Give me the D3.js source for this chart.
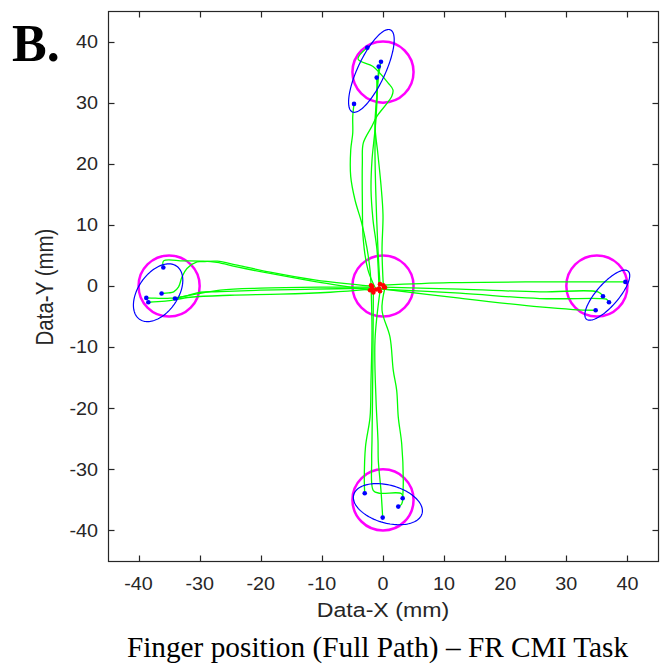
<!DOCTYPE html>
<html><head><meta charset="utf-8">
<script src="https://cdn.jsdelivr.net/npm/d3@7"></script>
<style>html,body{margin:0;padding:0;background:#fff;}svg{display:block;}</style>
</head><body>
<script>
// ---- data ----
const xTicks = [-40,-30,-20,-10,0,10,20,30,40];
const yTicks = [-40,-30,-20,-10,0,10,20,30,40];
const targetCenters = [[0,0],[0,35],[-35,0],[35,0],[0,-35]];
const targetRadius = 5;

// confidence ellipses: top, left, right, bottom
const ellipseCx    = [-1.9, -36.8, 36.7, 0.8];
const ellipseCy    = [35.2, -1.1, -1.5, -35.7];
const ellipseA     = [7.4, 5.3, 5.2, 5.8];
const ellipseB     = [2.25, 3.25, 1.8, 3.1];
const ellipseAngle = [65, 55, 49, -15.5];

const upPaths = [
  [[-1.96,0.13],[-2.12,2.59],[-2.66,6.41],[-3.48,10.3],[-4.58,14.07],[-5.28,17.89],[-5.28,22.26],[-4.95,25.05],[-4.95,27.72],[-4.74,29.8]],
  [[-1.14,-0.57],[-2.45,2.59],[-3.22,7.51],[-3.38,14.07],[-3.38,20.13],[-3.22,23.41],[-1.85,26.08],[-1.03,27.72],[1.42,31.0],[1.63,32.1],[0.82,33.24],[-1.63,35.92],[-4.08,37.13],[-2.57,39.03]],
  [[-0.49,0.3],[-0.82,5.87],[-1.14,14.07],[-1.31,22.26],[-1.14,28.82],[-0.82,33.74],[-0.33,36.69]],
  [[0.05,0.13],[-0.16,5.87],[0,11.61],[-0.33,16.52],[-0.82,21.44],[-1.31,26.36],[-0.98,31.28],[-0.70,35.87]],
  [[-0.65,-0.41],[-0.98,5.87],[-1.63,10.79],[-1.96,15.7],[-1.8,20.62],[-1.31,25.54],[-0.98,30.46],[-1.03,34.07]]
];
const downPaths = [
  [[-1.96,0.13],[-1.8,-7.25],[-1.96,-15.44],[-2.12,-21.46],[-2.86,-26.26],[-3.06,-31.87],[-2.99,-33.92]],
  [[0.33,-0.25],[-0.16,-3.97],[1.14,-8.34],[1.68,-13.8],[2.24,-17.08],[2.5,-21.46],[3.06,-25.82],[3.32,-31.84],[3.22,-34.74]],
  [[-1.58,-1.07],[-1.63,-8.89],[-1.72,-18.72],[-1.8,-25.28],[-1.85,-28.56],[-1.58,-33.48],[-0.49,-33.92],[3.06,-34.02],[3.06,-35.66],[2.5,-36.1]],
  [[-0.49,-0.85],[-1.31,-8.89],[-1.14,-18.72],[-0.82,-25.28],[-0.77,-28.56],[-0.33,-33.48],[-0.05,-37.9]]
];
const leftPaths = [
  [[-2.12,-0.69],[-10.83,0.67],[-18.46,2.05],[-23.91,3.13],[-27.17,3.85],[-29.41,4.07],[-32.68,4.11],[-35.9,4.11],[-35.95,3.03]],
  [[-1.8,-0.03],[-10.95,0.95],[-18.46,2.26],[-23.86,3.41],[-27.12,4.07],[-29.41,3.98],[-30.44,3.95],[-32.08,2.87],[-32.89,1.49],[-33.45,-0.15],[-34.26,-0.97],[-35.08,-1.13],[-36.23,-1.23]],
  [[-1.8,-0.36],[-11.44,-0.52],[-20.1,-0.69],[-26.63,-0.93],[-29.9,-1.02],[-32.35,-1.67],[-34.04,-2.05]],
  [[-2.12,-0.2],[-10.29,-0.2],[-20.1,-0.36],[-26.63,-0.69],[-31.54,-1.51],[-34.8,-2.0],[-37.25,-2.0],[-38.73,-1.95]],
  [[-1.8,-0.52],[-8.66,-1.02],[-16.83,-1.34],[-25.0,-1.51],[-31.54,-1.84],[-35.62,-2.49],[-38.4,-2.66]]
];
const rightPaths = [
  [[0.05,0.13],[10.95,0.54],[25.65,0.67],[39.66,0.67]],
  [[0.16,-0.2],[12.58,-0.52],[25.65,-0.97],[35.18,-0.97],[36.0,-1.67]],
  [[-0.49,-0.52],[12.58,-1.18],[25.65,-2.05],[35.46,-2.05],[36.55,-2.16],[36.98,-2.66]],
  [[-0.65,-0.41],[12.58,-2.0],[25.65,-3.43],[31.1,-3.85],[34.8,-3.97]]
];
const endPoints = [
  [-2.57,39.0],[-0.33,36.7],[-0.70,35.9],[-1.03,34.1],[-4.74,29.8],
  [-35.95,3.03],[-38.73,-1.95],[-38.4,-2.66],[-36.23,-1.23],[-34.04,-2.05],
  [39.66,0.67],[36.0,-1.67],[36.98,-2.66],[34.8,-3.97],
  [-2.99,-33.92],[3.22,-34.74],[2.5,-36.1],[-0.05,-37.9]
];
const startPoints = [
  [-1.96,0.13],[-2.12,-0.69],[-0.65,-0.41],[0.05,0.13],[0.33,-0.25],[-1.58,-1.07],
  [-0.49,-0.85],[-1.14,-0.57],[-1.8,-0.03],[-0.49,0.3],[0.16,-0.2],[-1.8,-0.52],[-1.8,-0.36]
];
const xLabel = "Data-X (mm)";
const yLabel = "Data-Y (mm)";
const caption = "Finger position (Full Path) \u2013 FR CMI Task";
const panelLabel = "B.";

// ---- drawing ----
const W = 666, H = 666;
const svg = d3.select("body").append("svg").attr("width", W).attr("height", H);
svg.append("rect").attr("width", W).attr("height", H).attr("fill", "#fff");

const x = d3.scaleLinear().domain([-45, 45]).range([108, 658]);
const y = d3.scaleLinear().domain([-45, 45]).range([561, 11]);
const axisColor = "#262626";
const sans = "'Liberation Sans', Arial, Helvetica, sans-serif";
const serif = "'Liberation Serif', 'Times New Roman', serif";
const stretch = 1.13;

const plot = svg.append("g");

// target circles
plot.selectAll("circle.target").data(targetCenters).join("circle")
  .attr("class", "target")
  .attr("cx", d => x(d[0])).attr("cy", d => y(d[1]))
  .attr("r", x(targetRadius) - x(0))
  .attr("fill", "none").attr("stroke", "#ff00ff").attr("stroke-width", 2.5);

// paths
const line = d3.line().x(d => x(d[0])).y(d => y(d[1])).curve(d3.curveCatmullRom.alpha(0.5));
const allPaths = [].concat(upPaths, downPaths, leftPaths, rightPaths);
plot.selectAll("path.traj").data(allPaths).join("path")
  .attr("class", "traj")
  .attr("d", line)
  .attr("fill", "none").attr("stroke", "#00ff00").attr("stroke-width", 1.3);

// ellipses
const ellipseData = ellipseCx.map((cx, i) => {
  const t = ellipseAngle[i] * Math.PI / 180;
  return d3.range(0, 361, 3).map(deg => {
    const p = deg * Math.PI / 180;
    const ex = ellipseA[i] * Math.cos(p), ey = ellipseB[i] * Math.sin(p);
    return [cx + ex * Math.cos(t) - ey * Math.sin(t), ellipseCy[i] + ex * Math.sin(t) + ey * Math.cos(t)];
  });
});
const eline = d3.line().x(d => x(d[0])).y(d => y(d[1]));
plot.selectAll("path.ell").data(ellipseData).join("path")
  .attr("class", "ell").attr("d", eline)
  .attr("fill", "none").attr("stroke", "#0000ff").attr("stroke-width", 1.2);

// points
plot.selectAll("circle.endp").data(endPoints).join("circle")
  .attr("class", "endp")
  .attr("cx", d => x(d[0])).attr("cy", d => y(d[1])).attr("r", 2.3).attr("fill", "#0000ff");
plot.selectAll("circle.startp").data(startPoints).join("circle")
  .attr("class", "startp")
  .attr("cx", d => x(d[0])).attr("cy", d => y(d[1])).attr("r", 2.3).attr("fill", "#ff0000");

// axes box
const ax = svg.append("g");
ax.append("rect").attr("x", 108.5).attr("y", 11.5).attr("width", 550).attr("height", 550)
  .attr("fill", "none").attr("stroke", axisColor).attr("stroke-width", 1.2);
const tl = 6;
xTicks.forEach(v => {
  const px = Math.round(x(v)) + 0.5;
  ax.append("line").attr("x1", px).attr("x2", px).attr("y1", 561.5).attr("y2", 561.5 - tl).attr("stroke", axisColor).attr("stroke-width", 1.2);
  ax.append("line").attr("x1", px).attr("x2", px).attr("y1", 11.5).attr("y2", 11.5 + tl).attr("stroke", axisColor).attr("stroke-width", 1.2);
  ax.append("text").attr("transform", `translate(${x(v)},590) scale(${stretch},1)`)
    .attr("text-anchor", "middle").attr("font-family", sans).attr("font-size", 17.5).attr("fill", axisColor).text(v);
});
yTicks.forEach(v => {
  const py = Math.round(y(v)) + 0.5;
  ax.append("line").attr("y1", py).attr("y2", py).attr("x1", 108.5).attr("x2", 108.5 + tl).attr("stroke", axisColor).attr("stroke-width", 1.2);
  ax.append("line").attr("y1", py).attr("y2", py).attr("x1", 658.5).attr("x2", 658.5 - tl).attr("stroke", axisColor).attr("stroke-width", 1.2);
  ax.append("text").attr("transform", `translate(98,${y(v) + 6.3}) scale(${stretch},1)`)
    .attr("text-anchor", "end").attr("font-family", sans).attr("font-size", 17.5).attr("fill", axisColor).text(v);
});

// axis labels
svg.append("text").attr("transform", `translate(383,617) scale(${stretch},1)`)
  .attr("text-anchor", "middle").attr("font-family", sans).attr("font-size", 20.5).attr("fill", axisColor).text(xLabel);
svg.append("text").attr("transform", `translate(53,287) scale(${stretch},1) rotate(-90)`)
  .attr("text-anchor", "middle").attr("font-family", sans).attr("font-size", 20.5).attr("fill", axisColor).text(yLabel);

// caption and panel label
svg.append("text").attr("x", 377.5).attr("y", 657).attr("text-anchor", "middle")
  .attr("font-family", serif).attr("font-size", 29.3).attr("fill", "#000").text(caption);
svg.append("text").attr("x", 12).attr("y", 61)
  .attr("font-family", serif).attr("font-weight", "bold").attr("font-size", 52).attr("fill", "#000").text(panelLabel);
</script>
</body></html>
